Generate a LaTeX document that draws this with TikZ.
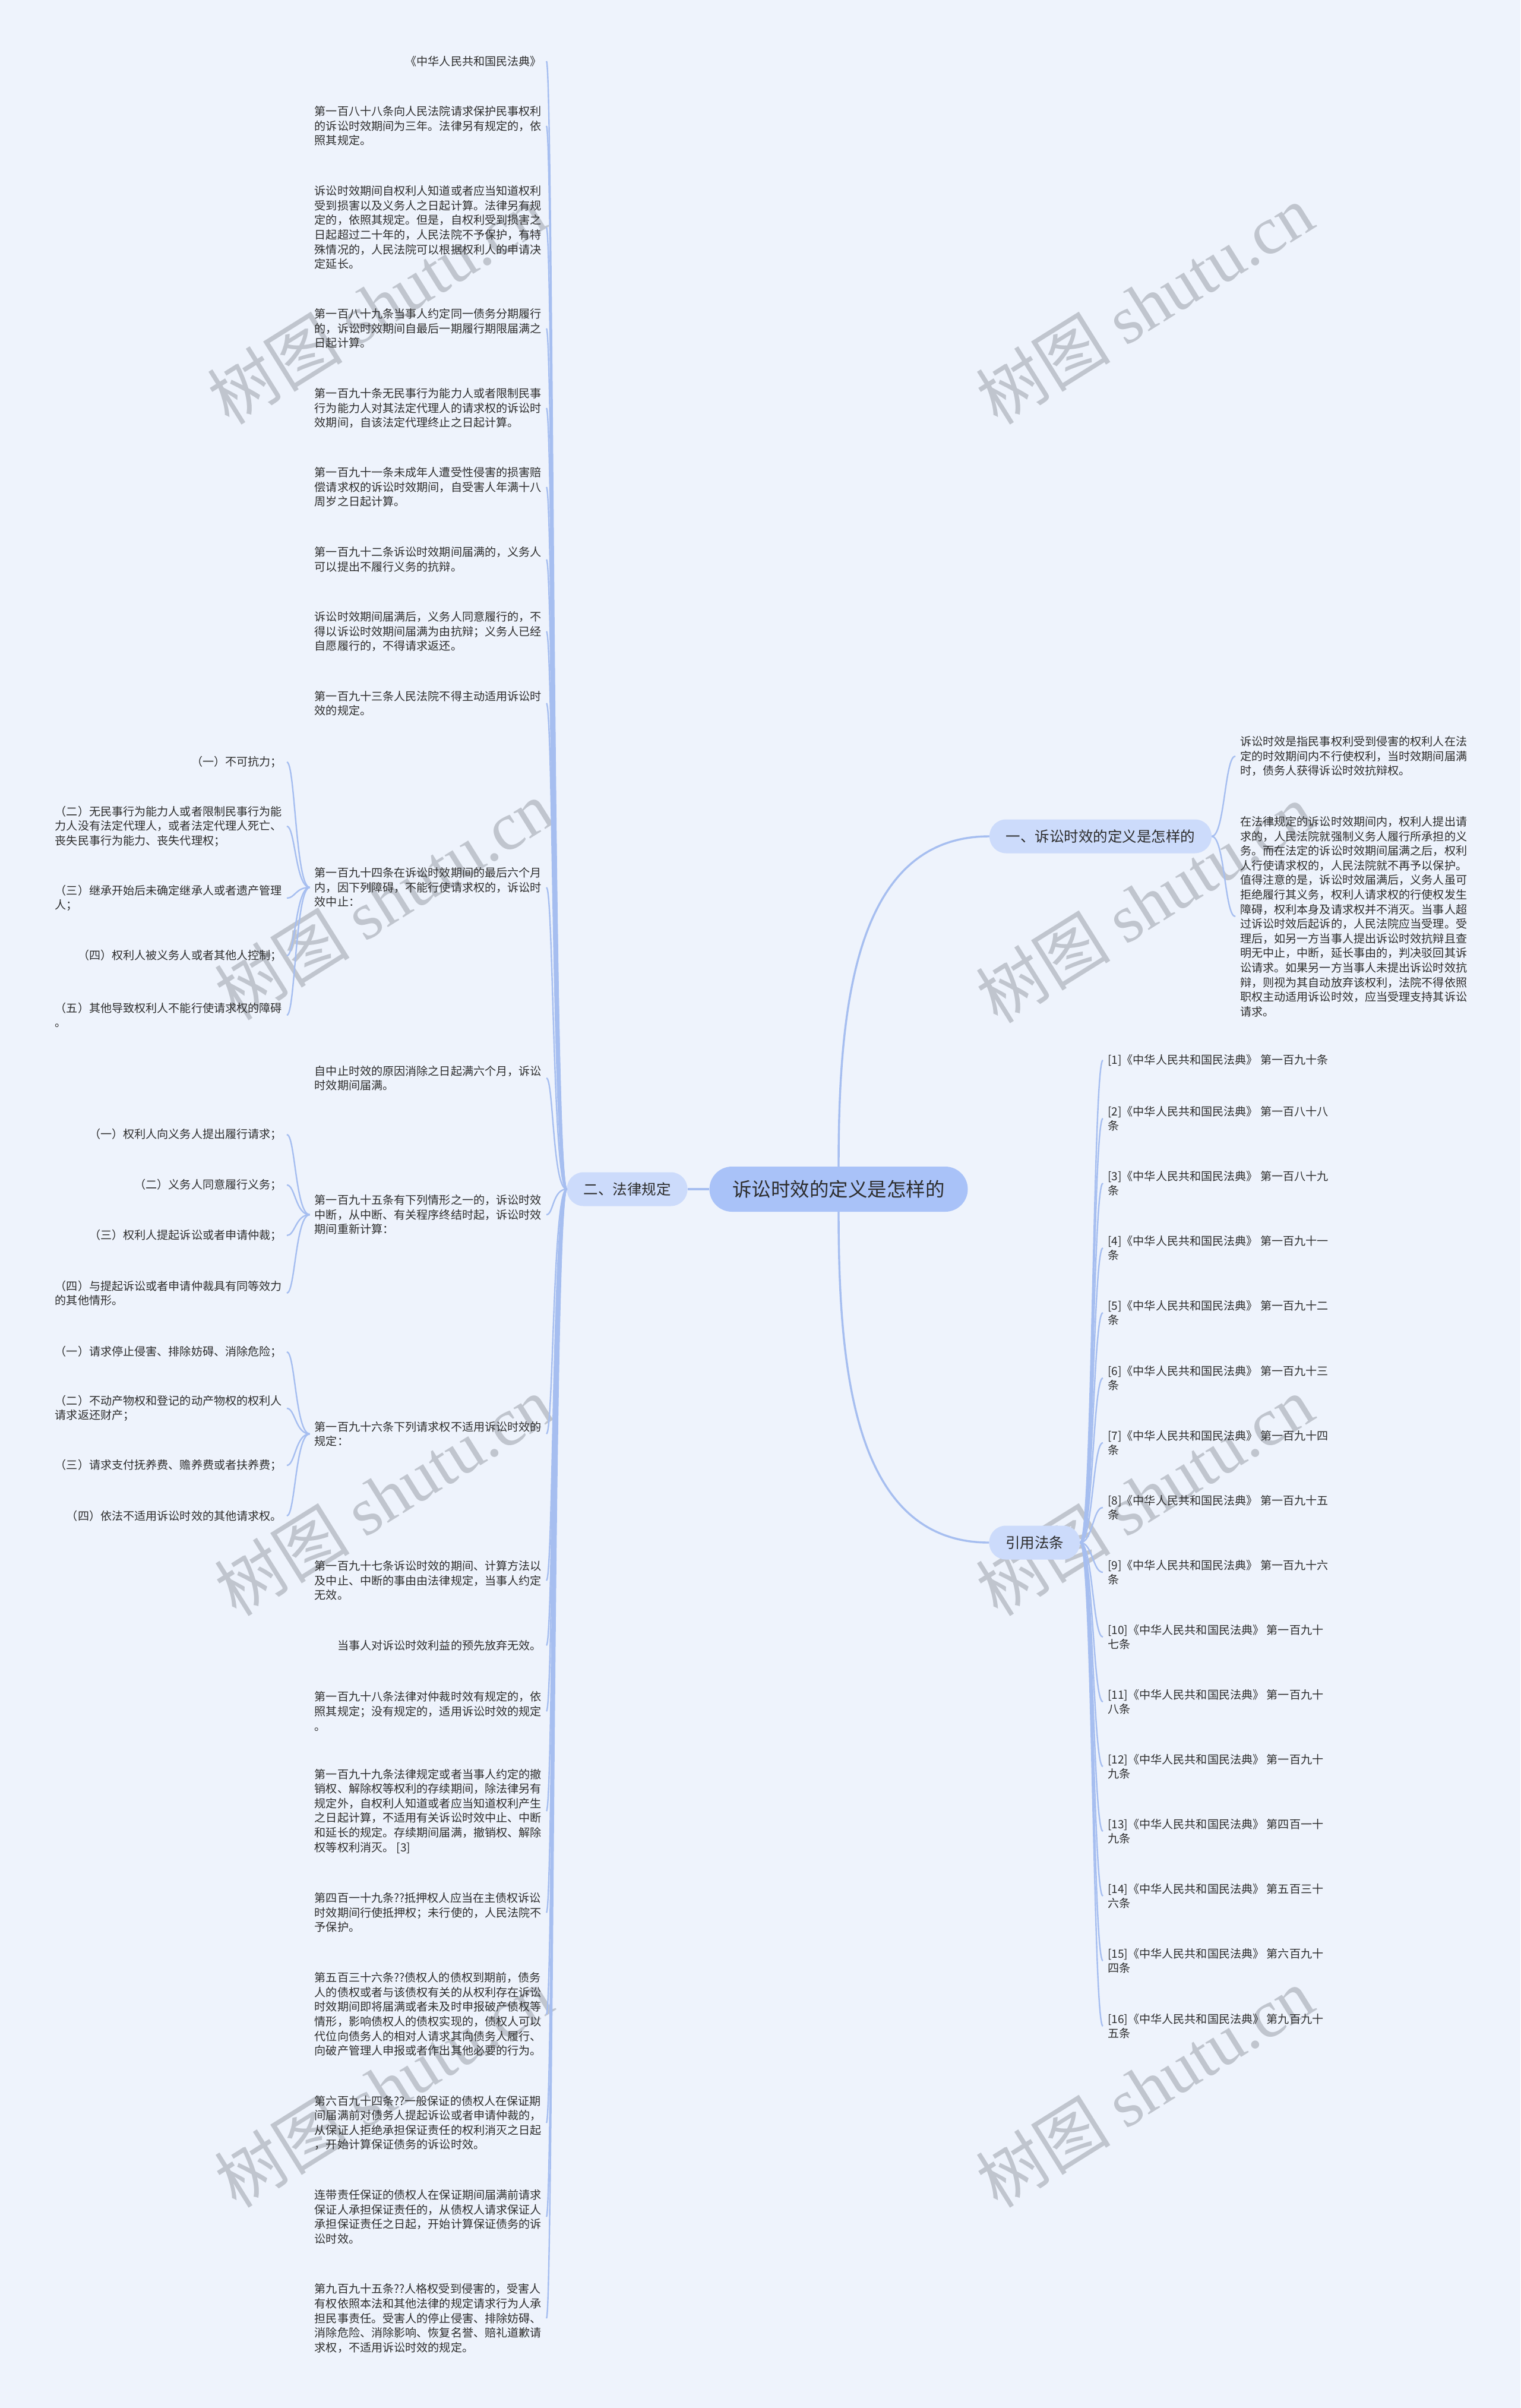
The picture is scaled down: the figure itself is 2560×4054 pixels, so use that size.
\documentclass[tikz,border=0pt]{standalone}
\usepackage{fontspec}
\setmainfont{Noto Sans CJK SC}
\newfontfamily\wmfont{Liberation Serif}
\definecolor{bgc}{RGB}{238,243,252}
\definecolor{lnc}{RGB}{166,190,240}
\definecolor{rootc}{RGB}{169,194,248}
\definecolor{brc}{RGB}{204,219,251}
\definecolor{txc}{RGB}{45,45,45}
\definecolor{wmc}{RGB}{192,197,206}
\tikzset{
  leaf/.style={inner xsep=8pt, inner ysep=3pt, align=left, text=txc, font={\fontsize{19.1}{24.6}\selectfont}},
  rootbox/.style={fill=rootc, rounded corners=38pt, minimum width=435pt, minimum height=76pt, inner sep=0pt, text=txc, font={\fontsize{32.5}{36}\selectfont}},
  brbox/.style={fill=brc, rounded corners=28pt, minimum height=57pt, inner sep=0pt, text=txc, font={\fontsize{24.5}{28}\selectfont}},
  lk/.style={draw=lnc, line width=2.4pt},
  mainlk/.style={draw=lnc, line width=3.4pt},
  wm/.style={text=wmc, font={\fontsize{114}{120}\selectfont}, inner sep=0pt},
}
\begin{document}
\begin{tikzpicture}[x=1pt,y=-1pt]
\useasboundingbox (0,0) rectangle (2560,4054);
\fill[bgc] (0,0) rectangle (2560,4054);
% watermarks
\node[wm, rotate=32] (w1) at (634,512) {树图 {\wmfont shutu.cn}};
\node[wm, rotate=32] (w2) at (1927,512) {树图 {\wmfont shutu.cn}};
\node[wm, rotate=32] (w3) at (646,1515) {树图 {\wmfont shutu.cn}};
\node[wm, rotate=32] (w4) at (1927,1520) {树图 {\wmfont shutu.cn}};
\node[wm, rotate=32] (w5) at (646,2518) {树图 {\wmfont shutu.cn}};
\node[wm, rotate=32] (w6) at (1927,2518) {树图 {\wmfont shutu.cn}};
\node[wm, rotate=32] (w7) at (646,3514) {树图 {\wmfont shutu.cn}};
\node[wm, rotate=32] (w8) at (1927,3514) {树图 {\wmfont shutu.cn}};

% main nodes
\node[rootbox] (root) at (1412,2002) {诉讼时效的定义是怎样的};
\node[brbox, minimum width=374pt] (b1) at (1853,1408) {一、诉讼时效的定义是怎样的};
\node[brbox, minimum width=203pt] (b2) at (1056,2002) {二、法律规定};
\node[brbox, minimum width=153pt] (b3) at (1742,2597) {引用法条};

% left column
\node[leaf, anchor=east] (L1) at (920,103) {《中华人民共和国民法典》};
\node[leaf, anchor=east] (L2) at (920,212) {第一百八十八条向人民法院请求保护民事权利\\的诉讼时效期间为三年。法律另有规定的，依\\照其规定。};
\node[leaf, anchor=east] (L3) at (920,383) {诉讼时效期间自权利人知道或者应当知道权利\\受到损害以及义务人之日起计算。法律另有规\\定的，依照其规定。但是，自权利受到损害之\\日起超过二十年的，人民法院不予保护，有特\\殊情况的，人民法院可以根据权利人的申请决\\定延长。};
\node[leaf, anchor=east] (L4) at (920,553) {第一百八十九条当事人约定同一债务分期履行\\的，诉讼时效期间自最后一期履行期限届满之\\日起计算。};
\node[leaf, anchor=east] (L5) at (920,687) {第一百九十条无民事行为能力人或者限制民事\\行为能力人对其法定代理人的请求权的诉讼时\\效期间，自该法定代理终止之日起计算。};
\node[leaf, anchor=east] (L6) at (920,820) {第一百九十一条未成年人遭受性侵害的损害赔\\偿请求权的诉讼时效期间，自受害人年满十八\\周岁之日起计算。};
\node[leaf, anchor=east] (L7) at (920,942) {第一百九十二条诉讼时效期间届满的，义务人\\可以提出不履行义务的抗辩。};
\node[leaf, anchor=east] (L8) at (920,1063) {诉讼时效期间届满后，义务人同意履行的，不\\得以诉讼时效期间届满为由抗辩；义务人已经\\自愿履行的，不得请求返还。};
\node[leaf, anchor=east] (L9) at (920,1184) {第一百九十三条人民法院不得主动适用诉讼时\\效的规定。};
\node[leaf, anchor=east] (L10) at (920,1494) {第一百九十四条在诉讼时效期间的最后六个月\\内，因下列障碍，不能行使请求权的，诉讼时\\效中止：};
\node[leaf, anchor=east] (L11) at (920,1815) {自中止时效的原因消除之日起满六个月，诉讼\\时效期间届满。};
\node[leaf, anchor=east] (L12) at (920,2045) {第一百九十五条有下列情形之一的，诉讼时效\\中断，从中断、有关程序终结时起，诉讼时效\\期间重新计算：};
\node[leaf, anchor=east] (L13) at (920,2414) {第一百九十六条下列请求权不适用诉讼时效的\\规定：};
\node[leaf, anchor=east] (L14) at (920,2661) {第一百九十七条诉讼时效的期间、计算方法以\\及中止、中断的事由由法律规定，当事人约定\\无效。};
\node[leaf, anchor=east] (L15) at (920,2770) {当事人对诉讼时效利益的预先放弃无效。};
\node[leaf, anchor=east] (L16) at (920,2881) {第一百九十八条法律对仲裁时效有规定的，依\\照其规定；没有规定的，适用诉讼时效的规定\\。};
\node[leaf, anchor=east] (L17) at (920,3049) {第一百九十九条法律规定或者当事人约定的撤\\销权、解除权等权利的存续期间，除法律另有\\规定外，自权利人知道或者应当知道权利产生\\之日起计算，不适用有关诉讼时效中止、中断\\和延长的规定。存续期间届满，撤销权、解除\\权等权利消灭。 [3]};
\node[leaf, anchor=east] (L18) at (920,3220) {第四百一十九条??抵押权人应当在主债权诉讼\\时效期间行使抵押权；未行使的，人民法院不\\予保护。};
\node[leaf, anchor=east] (L19) at (920,3391) {第五百三十六条??债权人的债权到期前，债务\\人的债权或者与该债权有关的从权利存在诉讼\\时效期间即将届满或者未及时申报破产债权等\\情形，影响债权人的债权实现的，债权人可以\\代位向债务人的相对人请求其向债务人履行、\\向破产管理人申报或者作出其他必要的行为。};
\node[leaf, anchor=east] (L20) at (920,3574) {第六百九十四条??一般保证的债权人在保证期\\间届满前对债务人提起诉讼或者申请仲裁的，\\从保证人拒绝承担保证责任的权利消灭之日起\\，开始计算保证债务的诉讼时效。};
\node[leaf, anchor=east] (L21) at (920,3732) {连带责任保证的债权人在保证期间届满前请求\\保证人承担保证责任的，从债权人请求保证人\\承担保证责任之日起，开始计算保证债务的诉\\讼时效。};
\node[leaf, anchor=east] (L22) at (920,3903) {第九百九十五条??人格权受到侵害的，受害人\\有权依照本法和其他法律的规定请求行为人承\\担民事责任。受害人的停止侵害、排除妨碍、\\消除危险、消除影响、恢复名誉、赔礼道歉请\\求权，不适用诉讼时效的规定。};

% sub-children of 194
\node[leaf, anchor=east] (A1) at (483,1283) {（一）不可抗力；};
\node[leaf, anchor=east] (A2) at (483,1391) {（二）无民事行为能力人或者限制民事行为能\\力人没有法定代理人，或者法定代理人死亡、\\丧失民事行为能力、丧失代理权；};
\node[leaf, anchor=east] (A3) at (483,1512) {（三）继承开始后未确定继承人或者遗产管理\\人；};
\node[leaf, anchor=east] (A4) at (483,1609) {（四）权利人被义务人或者其他人控制；};
\node[leaf, anchor=east] (A5) at (483,1709) {（五）其他导致权利人不能行使请求权的障碍\\。};
% sub-children of 195
\node[leaf, anchor=east] (B1) at (483,1910) {（一）权利人向义务人提出履行请求；};
\node[leaf, anchor=east] (B2) at (483,1995) {（二）义务人同意履行义务；};
\node[leaf, anchor=east] (B3) at (483,2080) {（三）权利人提起诉讼或者申请仲裁；};
\node[leaf, anchor=east] (B4) at (483,2177) {（四）与提起诉讼或者申请仲裁具有同等效力\\的其他情形。};
% sub-children of 196
\node[leaf, anchor=east] (D1) at (483,2276) {（一）请求停止侵害、排除妨碍、消除危险；};
\node[leaf, anchor=east] (D2) at (483,2371) {（二）不动产物权和登记的动产物权的权利人\\请求返还财产；};
\node[leaf, anchor=east] (D3) at (483,2467) {（三）请求支付抚养费、赡养费或者扶养费；};
\node[leaf, anchor=east] (D4) at (483,2552) {（四）依法不适用诉讼时效的其他请求权。};

% right: branch 1 children
\node[leaf, anchor=west] (R1) at (2080,1273) {诉讼时效是指民事权利受到侵害的权利人在法\\定的时效期间内不行使权利，当时效期间届满\\时，债务人获得诉讼时效抗辩权。};
\node[leaf, anchor=west] (R2) at (2080,1543) {在法律规定的诉讼时效期间内，权利人提出请\\求的，人民法院就强制义务人履行所承担的义\\务。而在法定的诉讼时效期间届满之后，权利\\人行使请求权的，人民法院就不再予以保护。\\值得注意的是，诉讼时效届满后，义务人虽可\\拒绝履行其义务，权利人请求权的行使权发生\\障碍，权利本身及请求权并不消灭。当事人超\\过诉讼时效后起诉的，人民法院应当受理。受\\理后，如另一方当事人提出诉讼时效抗辩且查\\明无中止，中断，延长事由的，判决驳回其诉\\讼请求。如果另一方当事人未提出诉讼时效抗\\辩，则视为其自动放弃该权利，法院不得依照\\职权主动适用诉讼时效，应当受理支持其诉讼\\请求。};

% right: citations
\node[leaf, anchor=west] (C1) at (1857,1785) {[1]《中华人民共和国民法典》 第一百九十条};
\node[leaf, anchor=west] (C2) at (1857,1883) {[2]《中华人民共和国民法典》 第一百八十八\\条};
\node[leaf, anchor=west] (C3) at (1857,1992) {[3]《中华人民共和国民法典》 第一百八十九\\条};
\node[leaf, anchor=west] (C4) at (1857,2101) {[4]《中华人民共和国民法典》 第一百九十一\\条};
\node[leaf, anchor=west] (C5) at (1857,2210) {[5]《中华人民共和国民法典》 第一百九十二\\条};
\node[leaf, anchor=west] (C6) at (1857,2320) {[6]《中华人民共和国民法典》 第一百九十三\\条};
\node[leaf, anchor=west] (C7) at (1857,2429) {[7]《中华人民共和国民法典》 第一百九十四\\条};
\node[leaf, anchor=west] (C8) at (1857,2538) {[8]《中华人民共和国民法典》 第一百九十五\\条};
\node[leaf, anchor=west] (C9) at (1857,2647) {[9]《中华人民共和国民法典》 第一百九十六\\条};
\node[leaf, anchor=west] (C10) at (1857,2756) {[10]《中华人民共和国民法典》 第一百九十\\七条};
\node[leaf, anchor=west] (C11) at (1857,2865) {[11]《中华人民共和国民法典》 第一百九十\\八条};
\node[leaf, anchor=west] (C12) at (1857,2974) {[12]《中华人民共和国民法典》 第一百九十\\九条};
\node[leaf, anchor=west] (C13) at (1857,3083) {[13]《中华人民共和国民法典》 第四百一十\\九条};
\node[leaf, anchor=west] (C14) at (1857,3192) {[14]《中华人民共和国民法典》 第五百三十\\六条};
\node[leaf, anchor=west] (C15) at (1857,3301) {[15]《中华人民共和国民法典》 第六百九十\\四条};
\node[leaf, anchor=west] (C16) at (1857,3411) {[16]《中华人民共和国民法典》 第九百九十\\五条};

% connectors
\draw[mainlk] (root.north) .. controls +(0,-265) and +(-228,0) .. (b1.west);
\draw[mainlk] (root.south) .. controls +(0,265) and +(-228,0) .. (b3.west);
\draw[mainlk] (root.west) -- (b2.east);
\foreach \n in {L1,L2,L3,L4,L5,L6,L7,L8,L9,L10,L11,L12,L13,L14,L15,L16,L17,L18,L19,L20,L21,L22}
  \draw[lk] (b2.west) .. controls +(-24,0) and +(12,0) .. (\n.east);
\foreach \n in {A1,A2,A3,A4,A5}
  \draw[lk] (L10.west) .. controls +(-24,0) and +(14,0) .. (\n.east);
\foreach \n in {B1,B2,B3,B4}
  \draw[lk] (L12.west) .. controls +(-24,0) and +(14,0) .. (\n.east);
\foreach \n in {D1,D2,D3,D4}
  \draw[lk] (L13.west) .. controls +(-24,0) and +(14,0) .. (\n.east);
\foreach \n in {R1,R2}
  \draw[lk] (b1.east) .. controls +(22,0) and +(-18,0) .. (\n.west);
\foreach \n in {C1,C2,C3,C4,C5,C6,C7,C8,C9,C10,C11,C12,C13,C14,C15,C16}
  \draw[lk] (b3.east) .. controls +(21,0) and +(-17,0) .. (\n.west);
\end{tikzpicture}
\end{document}
